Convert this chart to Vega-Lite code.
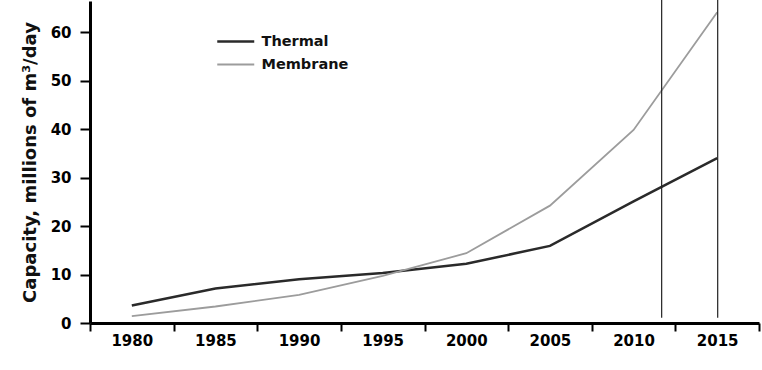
{
  "$schema": "https://vega.github.io/schema/vega-lite/v6.json",
  "width": 669,
  "height": 322,
  "autosize": "none",
  "padding": {"left": 90, "top": 1, "right": 3, "bottom": 47},
  "background": "white",
  "config": {
    "view": {"stroke": null},
    "axis": {
      "grid": false,
      "domainColor": "#000",
      "domainWidth": 3,
      "tickColor": "#000",
      "tickWidth": 2,
      "labelFont": "DejaVu Sans",
      "labelFontWeight": "bold",
      "labelFontSize": 15,
      "labelColor": "#000",
      "titleFont": "DejaVu Sans",
      "titleFontWeight": "bold",
      "titleFontSize": 18,
      "titleColor": "#111"
    }
  },
  "datasets": {
    "series": [
      {"year": 1980, "series": "Thermal", "capacity": 3.6},
      {"year": 1985, "series": "Thermal", "capacity": 7.1},
      {"year": 1990, "series": "Thermal", "capacity": 9.0},
      {"year": 1995, "series": "Thermal", "capacity": 10.3},
      {"year": 2000, "series": "Thermal", "capacity": 12.2},
      {"year": 2005, "series": "Thermal", "capacity": 15.9},
      {"year": 2010, "series": "Thermal", "capacity": 25.1},
      {"year": 2015, "series": "Thermal", "capacity": 34.0},
      {"year": 1980, "series": "Membrane", "capacity": 1.4},
      {"year": 1985, "series": "Membrane", "capacity": 3.4},
      {"year": 1990, "series": "Membrane", "capacity": 5.8},
      {"year": 1995, "series": "Membrane", "capacity": 9.7},
      {"year": 2000, "series": "Membrane", "capacity": 14.4},
      {"year": 2005, "series": "Membrane", "capacity": 24.2},
      {"year": 2010, "series": "Membrane", "capacity": 39.8},
      {"year": 2015, "series": "Membrane", "capacity": 64.1}
    ],
    "markers": [
      {"year": 2011.68},
      {"year": 2015.03}
    ]
  },
  "layer": [
    {
      "data": {"name": "series"},
      "mark": {"type": "line"},
      "encoding": {
        "x": {
          "field": "year",
          "type": "quantitative",
          "scale": {"domain": [1977.5, 2017.5], "nice": false, "zero": false},
          "axis": {
            "title": null,
            "values": [1977.5, 1982.5, 1987.5, 1992.5, 1997.5, 2002.5, 2007.5, 2012.5, 2017.5],
            "labelExpr": "datum.value > 2017 ? '' : toString(datum.value + 2.5)",
            "labelOffset": 41.8,
            "labelOverlap": false,
            "labelFlush": false,
            "labelBound": false,
            "tickSize": 8,
            "labelPadding": 2
          }
        },
        "y": {
          "field": "capacity",
          "type": "quantitative",
          "scale": {"domain": [0, 66.4], "nice": false},
          "axis": {
            "title": "Capacity, millions of m³/day",
            "values": [0, 10, 20, 30, 40, 50, 60],
            "tickSize": 10,
            "labelPadding": 9,
            "titlePadding": 11
          }
        },
        "color": {
          "field": "series",
          "type": "nominal",
          "scale": {"domain": ["Thermal", "Membrane"], "range": ["#2a2a2a", "#9c9c9c"]},
          "legend": {
            "orient": "none",
            "legendX": 126,
            "legendY": 30,
            "title": null,
            "symbolType": "M-1,0H3",
            "symbolSize": 342,
            "symbolStrokeWidth": 2.2,
            "labelFont": "DejaVu Sans",
            "labelFontWeight": "bold",
            "labelFontSize": 14.5,
            "labelColor": "#111",
            "labelOffset": 24.5,
            "rowPadding": 6,
            "padding": 0
          }
        },
        "strokeWidth": {
          "field": "series",
          "type": "nominal",
          "scale": {"domain": ["Thermal", "Membrane"], "range": [2.5, 1.8]},
          "legend": null
        }
      }
    },
    {
      "data": {"name": "markers"},
      "mark": {"type": "rule", "color": "#222", "strokeWidth": 1.2, "clip": false},
      "encoding": {
        "x": {"field": "year", "type": "quantitative"},
        "y": {"datum": 66.6},
        "y2": {"datum": 1.1}
      }
    }
  ]
}
